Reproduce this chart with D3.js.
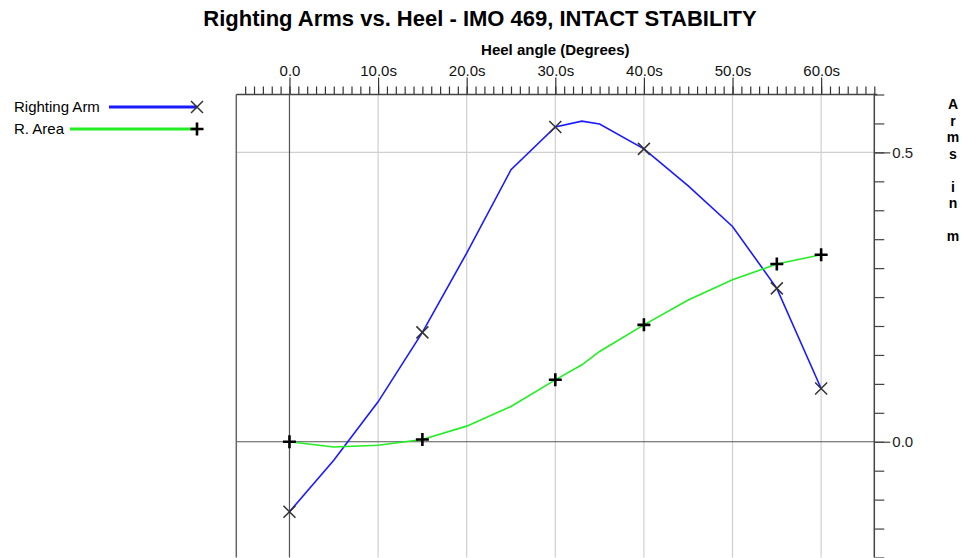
<!DOCTYPE html>
<html>
<head>
<meta charset="utf-8">
<script src="https://cdn.jsdelivr.net/npm/d3@7"></script>
<style>
  body { margin: 0; background: #fff; }
  svg { font-family: "Liberation Sans", Arial, sans-serif; }
</style>
</head>
<body>
<svg width="962" height="558"></svg>
<script>
// heel angles (deg) and curve values
var angles = [0, 5, 10, 15, 20, 25, 30, 33, 35, 40, 45, 50, 55, 60];
var rightingArm = [-0.121, -0.032, 0.069, 0.189, 0.326, 0.470, 0.544, 0.554, 0.549, 0.506, 0.442, 0.372, 0.265, 0.092];
var rArea = [0, -0.009, -0.006, 0.004, 0.027, 0.061, 0.107, 0.133, 0.156, 0.202, 0.245, 0.280, 0.307, 0.323];
var markerAngles = [0, 15, 30, 40, 55, 60];
var xTickLabels = ["0.0", "10.0s", "20.0s", "30.0s", "40.0s", "50.0s", "60.0s"];
var yTickLabels = ["0.0", "0.5"];
var yAxisTitle = "Arms in m";

var svg = d3.select("svg"),
    width = +svg.attr("width"),
    height = +svg.attr("height");

var x = d3.scaleLinear().domain([-6, 66]).range([236.3, 874.3]);
var y = d3.scaleLinear().domain([-0.2, 0.6]).range([557.5, 94.5]);

var pLeft = x(-6), pRight = x(66), pTop = y(0.6), pBottom = y(-0.2);

// title
svg.append("text")
    .attr("x", 480).attr("y", 26)
    .attr("text-anchor", "middle")
    .style("font-weight", "bold").style("font-size", "22px")
    .text("Righting Arms vs. Heel - IMO 469, INTACT STABILITY");

svg.append("text")
    .attr("x", (pLeft + pRight) / 2).attr("y", 55)
    .attr("text-anchor", "middle")
    .style("font-weight", "bold").style("font-size", "15px")
    .text("Heel angle (Degrees)");

// grid
var g = svg.append("g");
g.selectAll(".vgrid")
    .data(d3.range(10, 61, 10))
    .enter().append("line")
    .attr("x1", d => x(d)).attr("x2", d => x(d))
    .attr("y1", pTop).attr("y2", pBottom)
    .attr("stroke", "#cfcfcf").attr("stroke-width", 1.2);
g.append("line")
    .attr("x1", pLeft).attr("x2", pRight)
    .attr("y1", y(0.5)).attr("y2", y(0.5))
    .attr("stroke", "#cfcfcf").attr("stroke-width", 1.2);

// zero lines
g.append("line")
    .attr("x1", x(0)).attr("x2", x(0))
    .attr("y1", pTop).attr("y2", pBottom)
    .attr("stroke", "#555").attr("stroke-width", 1.2);
g.append("line")
    .attr("x1", pLeft).attr("x2", pRight)
    .attr("y1", y(0)).attr("y2", y(0))
    .attr("stroke", "#555").attr("stroke-width", 1.2);

// left frame
g.append("line").attr("x1", pLeft).attr("x2", pLeft).attr("y1", pTop).attr("y2", pBottom)
    .attr("stroke", "#666").attr("stroke-width", 1.5);

// top axis
var xMinor = d3.axisTop(x).tickValues(d3.range(-5, 67, 1)).tickSize(8).tickFormat("");
var xMajor = d3.axisTop(x).tickValues(d3.range(0, 61, 10)).tickSize(17)
    .tickFormat((d, i) => xTickLabels[i]);
var gx = svg.append("g").attr("transform", "translate(0," + pTop + ")").call(xMinor);
var gx2 = svg.append("g").attr("transform", "translate(0," + pTop + ")").call(xMajor);
[gx, gx2].forEach(function (a) {
    a.select(".domain").remove();
    a.selectAll("line").attr("stroke", "#333").attr("stroke-width", 1.2);
});
gx2.selectAll("text").attr("y", -19).style("font-size", "15px")
    .style("font-family", "'Liberation Sans', Arial, sans-serif").attr("fill", "#111");
svg.append("line").attr("x1", pLeft).attr("x2", pRight + 3).attr("y1", pTop).attr("y2", pTop)
    .attr("stroke", "#444").attr("stroke-width", 1.5);

// right axis
var yMinor = d3.axisRight(y).tickValues(d3.range(-0.2, 0.601, 0.05)).tickSize(10).tickFormat("");
var yMajor = d3.axisRight(y).tickValues([0, 0.5]).tickSize(16)
    .tickFormat((d, i) => yTickLabels[i]);
var gy = svg.append("g").attr("transform", "translate(" + pRight + ",0)").call(yMinor);
var gy2 = svg.append("g").attr("transform", "translate(" + pRight + ",0)").call(yMajor);
[gy, gy2].forEach(function (a) {
    a.select(".domain").remove();
    a.selectAll("line").attr("stroke", "#444").attr("stroke-width", 1.2);
});
gy2.selectAll("text").attr("x", 18).style("font-size", "15px")
    .style("font-family", "'Liberation Sans', Arial, sans-serif").attr("fill", "#222");
svg.append("line").attr("x1", pRight).attr("x2", pRight).attr("y1", pTop - 1).attr("y2", pBottom)
    .attr("stroke", "#444").attr("stroke-width", 1.5);

// stacked right title
svg.append("g").selectAll("text")
    .data(yAxisTitle.split(""))
    .enter().append("text")
    .attr("x", 953).attr("y", (d, i) => 109 + i * 16.5)
    .attr("text-anchor", "middle")
    .style("font-weight", "bold").style("font-size", "14px")
    .text(d => d);

// curves
var line = d3.line()
    .x(d => x(d[0]))
    .y(d => y(d[1]));

var raPts = angles.map((a, i) => [a, rightingArm[i]]);
var areaPts = angles.map((a, i) => [a, rArea[i]]);

svg.append("path").datum(raPts).attr("d", line)
    .attr("fill", "none").attr("stroke", "#1a1aff").attr("stroke-width", 1.6);
svg.append("path").datum(areaPts).attr("d", line)
    .attr("fill", "none").attr("stroke", "#22ee22").attr("stroke-width", 1.6);

function cross(sel, cx, cy, r) {
    sel.append("path")
        .attr("d", "M" + (cx - r) + "," + (cy - r) + "L" + (cx + r) + "," + (cy + r) +
                   "M" + (cx - r) + "," + (cy + r) + "L" + (cx + r) + "," + (cy - r))
        .attr("stroke", "#333").attr("stroke-width", 1.5).attr("fill", "none");
}
function plus(sel, cx, cy, r) {
    sel.append("path")
        .attr("d", "M" + (cx - r) + "," + cy + "L" + (cx + r) + "," + cy +
                   "M" + cx + "," + (cy - r) + "L" + cx + "," + (cy + r))
        .attr("stroke", "#000").attr("stroke-width", 2.6).attr("fill", "none");
}

var mk = svg.append("g");
markerAngles.forEach(function (a) {
    var i = angles.indexOf(a);
    cross(mk, x(a), y(rightingArm[i]), 6);
    plus(mk, x(a), y(rArea[i]), 6.5);
});

// legend
var lg = svg.append("g");
lg.append("text").attr("x", 14).attr("y", 112).style("font-size", "15px").text("Righting Arm");
lg.append("line").attr("x1", 109).attr("x2", 197).attr("y1", 107).attr("y2", 107)
    .attr("stroke", "#1a1aff").attr("stroke-width", 3);
cross(lg, 197, 107, 6);
lg.append("text").attr("x", 14).attr("y", 134).style("font-size", "15px").text("R. Area");
lg.append("line").attr("x1", 70).attr("x2", 197).attr("y1", 129).attr("y2", 129)
    .attr("stroke", "#22ee22").attr("stroke-width", 3);
plus(lg, 197, 129, 6.5);
</script>
</body>
</html>
